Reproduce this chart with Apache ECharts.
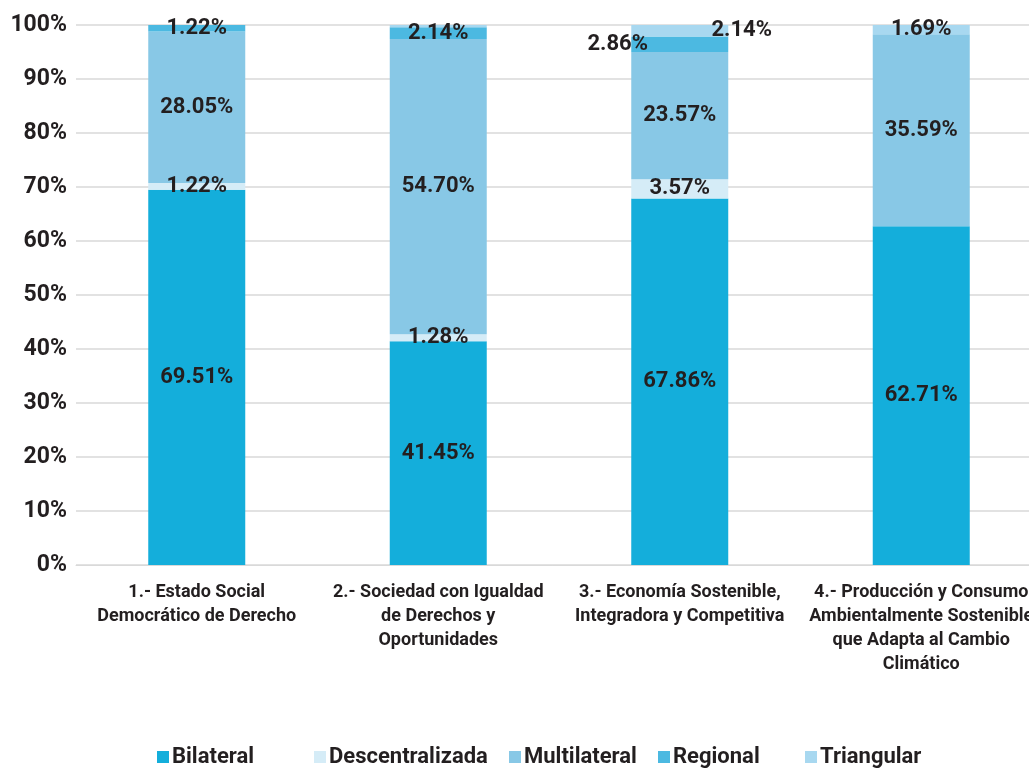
<!DOCTYPE html>
<html>
<head>
<meta charset="utf-8">
<script src="https://cdn.jsdelivr.net/npm/echarts@6/dist/echarts.min.js"></script>
<style>html,body{margin:0;padding:0;background:#fff}#c{width:1029px;height:768px}</style>
</head>
<body>
<div id="c"></div>
<script>
const categories = [
  "1.- Estado Social\nDemocrático de Derecho",
  "2.- Sociedad con Igualdad\nde Derechos y\nOportunidades",
  "3.- Economía Sostenible,\nIntegradora y Competitiva",
  "4.- Producción y Consumo\nAmbientalmente Sostenible\nque Adapta al Cambio\nClimático"
];
const seriesNames = ["Bilateral", "Descentralizada", "Multilateral", "Regional", "Triangular"];
const bilateral = [69.51, 41.45, 67.86, 62.71];
const descentralizada = [1.22, 1.28, 3.57, 0];
const multilateral = [28.05, 54.70, 23.57, 35.59];
const regional = [1.22, 2.14, 2.86, 0];
const triangular = [0, 0.43, 2.14, 1.69];
const yTicks = [0, 10, 20, 30, 40, 50, 60, 70, 80, 90, 100];

const values = [bilateral, descentralizada, multilateral, regional, triangular];
const colors = ["#14AEDB", "#D5ECF7", "#88C8E6", "#4CB9E1", "#A8D8F0"];
const FONT = "Roboto";
const TEXT = "#231F20";

// per-label offsets for crowded segments (series index, category index)
const labelOffsets = { "3,2": [-62, 0], "4,2": [62, 0] };
// legend item left positions
const legendLefts = [157, 314, 509, 658, 805];

const series = seriesNames.map((name, si) => ({
  name: name,
  type: "bar",
  stack: "total",
  barWidth: 97,
  itemStyle: { color: colors[si] },
  data: values[si].map((v, ci) => {
    const item = { value: v };
    const off = labelOffsets[si + "," + ci];
    if (off) item.label = { offset: off };
    return item;
  }),
  label: {
    show: true,
    position: "inside",
    color: TEXT,
    fontFamily: FONT,
    fontWeight: "bold",
    fontSize: 22,
    formatter: p => (p.value >= 1 ? p.value.toFixed(2) + "%" : "")
  }
}));

const legends = seriesNames.map((name, i) => ({
  top: 746,
  left: legendLefts[i],
  itemWidth: 12,
  itemHeight: 12,
  itemGap: 0,
  padding: 0,
  icon: "rect",
  textStyle: { fontFamily: FONT, fontWeight: "bold", fontSize: 22, color: TEXT, padding: [0, 0, 0, -2] },
  data: [name]
}));

const chart = echarts.init(document.getElementById("c"));
chart.setOption({
  animation: false,
  backgroundColor: "#fff",
  grid: { left: 76, top: 25, width: 966, bottom: 203, containLabel: false, outerBoundsMode: "none" },
  legend: legends,
  xAxis: {
    type: "category",
    data: categories,
    axisLine: { show: true, lineStyle: { color: "#D9D9D9", width: 1 } },
    axisTick: { show: false },
    axisLabel: {
      interval: 0,
      margin: 15,
      fontFamily: FONT,
      fontWeight: "bold",
      fontSize: 18,
      lineHeight: 24,
      color: TEXT
    }
  },
  yAxis: {
    type: "value",
    min: yTicks[0],
    max: yTicks[yTicks.length - 1],
    interval: 10,
    axisLine: { show: false },
    axisTick: { show: false },
    splitLine: { lineStyle: { color: "#D9D9D9", width: 1.5 } },
    axisLabel: {
      margin: 9,
      fontFamily: FONT,
      fontWeight: "bold",
      fontSize: 23,
      color: TEXT,
      formatter: v => v + "%"
    }
  },
  series: series
});
</script>
</body>
</html>
